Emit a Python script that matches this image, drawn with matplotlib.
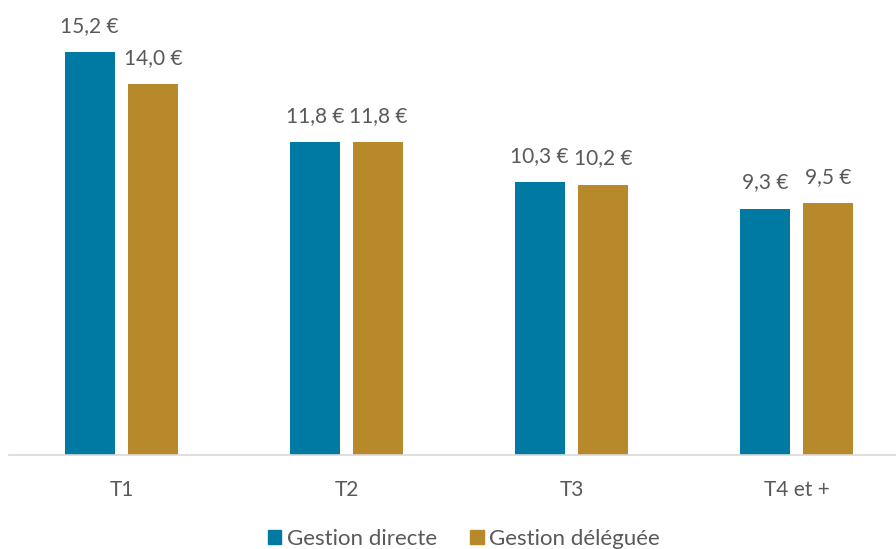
import matplotlib
matplotlib.use("Agg")
import matplotlib.pyplot as plt
from matplotlib.patches import Patch
import numpy as np

plt.rcParams['font.family'] = ['Lato', 'DejaVu Sans']

categories = ["T1", "T2", "T3", "T4 et +"]
gestion_directe = [15.2, 11.8, 10.3, 9.3]
gestion_deleguee = [14.0, 11.8, 10.2, 9.5]
series_names = ["Gestion directe", "Gestion déléguée"]

blue = "#0079A3"
gold = "#B8892A"
text_col = "#595959"

fig = plt.figure(figsize=(8.96, 5.49), dpi=100)
W, H = 896, 549
ax = fig.add_axes([9 / W, (H - 455) / H, 887 / W, 455 / H])

x = np.arange(len(categories))
bw = 0.222
off = 0.141

b1 = ax.bar(x - off, gestion_directe, bw, color=blue)
b2 = ax.bar(x + off, gestion_deleguee, bw, color=gold)

for bars, vals in ((b1, gestion_directe), (b2, gestion_deleguee)):
    for rect, v in zip(bars, vals):
        ax.annotate(f"{v:.1f} €".replace(".", ","),
                    (rect.get_x() + rect.get_width() / 2, v),
                    xytext=(0, 19), textcoords="offset points",
                    ha="center", va="center", fontsize=15, color=text_col)

ax.set_xlim(-0.5, -0.5 + 887 / 225)
ax.set_ylim(0, 455 / 26.5)
ax.set_xticks(x)
ax.set_xticklabels(categories, fontsize=15, color=text_col)
ax.tick_params(axis="x", length=0, pad=18)
ax.set_yticks([])
for s in ("top", "right", "left"):
    ax.spines[s].set_visible(False)
ax.spines["bottom"].set_color("#d9d9d9")
ax.spines["bottom"].set_linewidth(1.2)

handles = [Patch(color=blue), Patch(color=gold)]
fig.legend(handles, series_names, loc="center", bbox_to_anchor=(464 / W, (H - 539) / H),
           ncol=2, frameon=False, fontsize=16, labelcolor=text_col,
           handlelength=0.6, handleheight=0.6, handletextpad=0.25,
           columnspacing=1.5)

fig.savefig("out.png", dpi=100)
